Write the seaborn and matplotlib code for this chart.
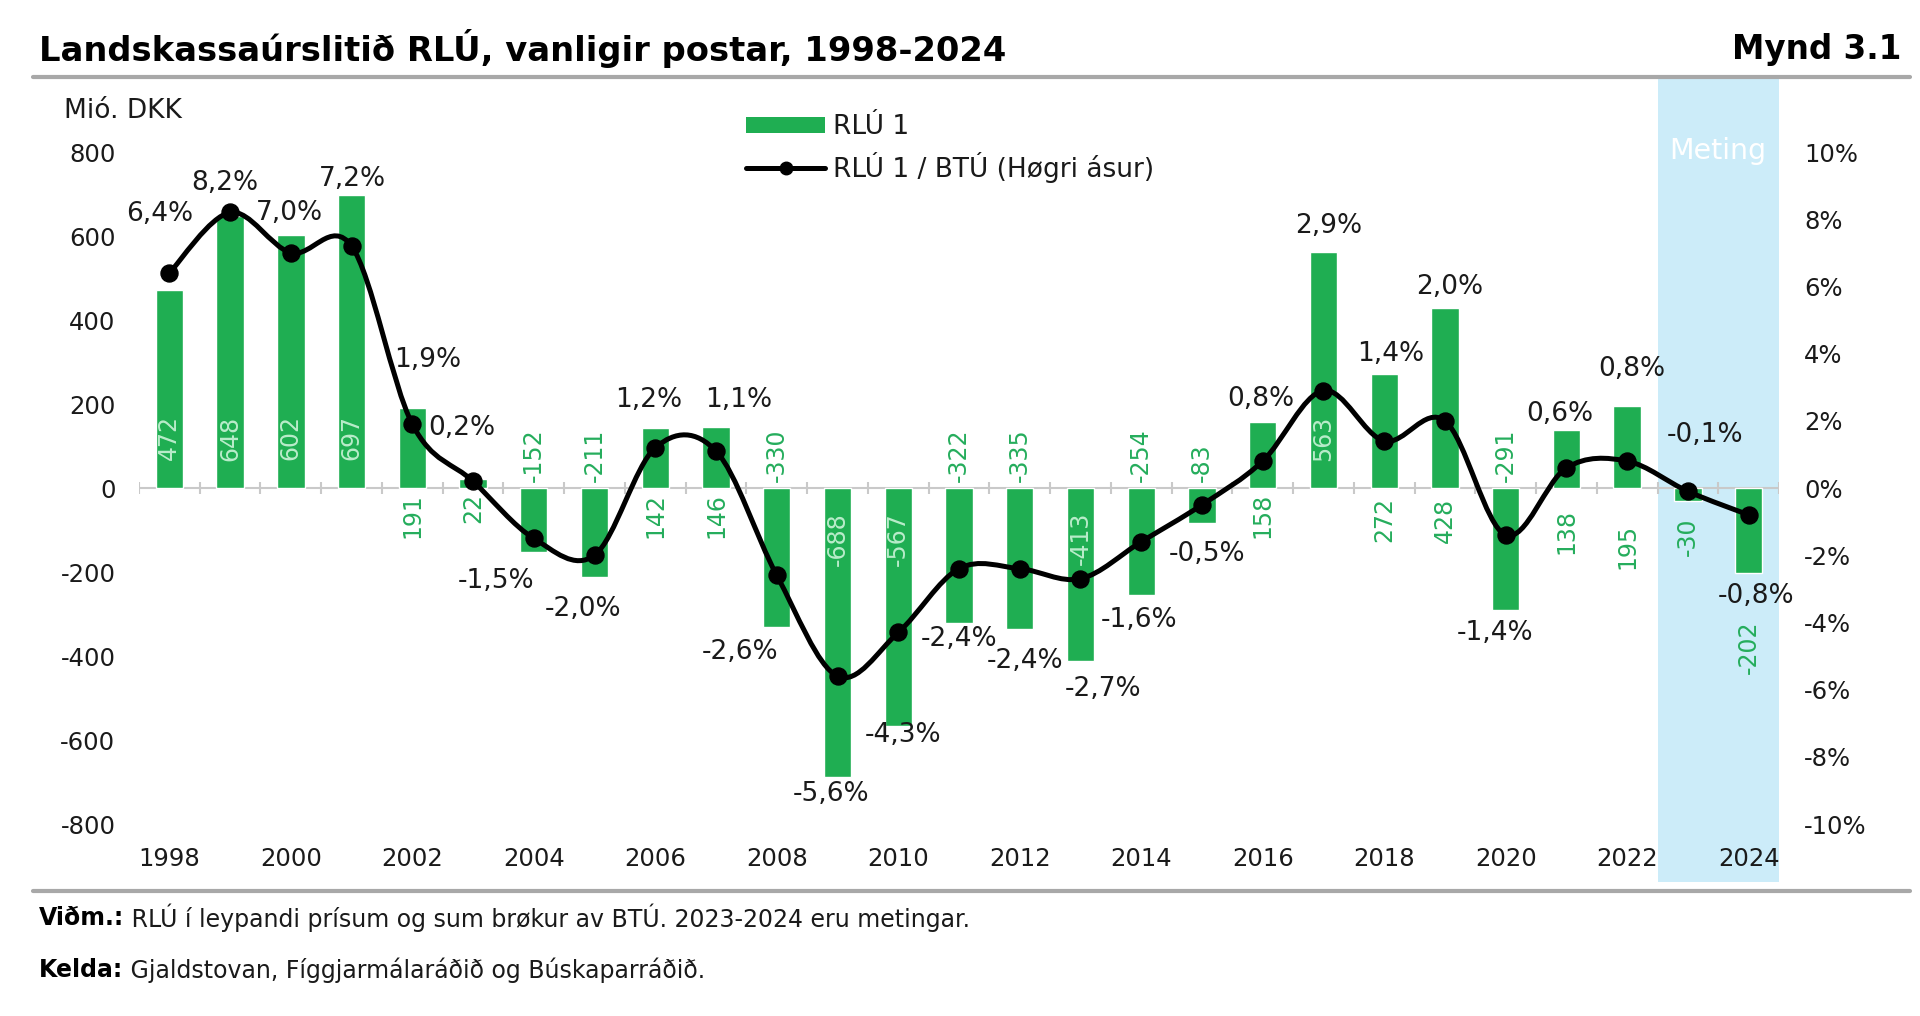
import numpy as np
import pandas as pd
import matplotlib
matplotlib.use("Agg")
import matplotlib.pyplot as plt
from matplotlib.path import Path
from matplotlib.patches import PathPatch, Rectangle, Patch
from matplotlib.lines import Line2D
import seaborn as sns

# ---------------- data ----------------
years = list(range(1998, 2025))
rlu1 = [472, 648, 602, 697, 191, 22, -152, -211, 142, 146, -330, -688, -567,
        -322, -335, -413, -254, -83, 158, 563, 272, 428, -291, 138, 195, -30, -202]
rlu_btu = [6.4, 8.2, 7.0, 7.2, 1.9, 0.2, -1.5, -2.0, 1.2, 1.1, -2.6, -5.6, -4.3,
           -2.4, -2.4, -2.7, -1.6, -0.5, 0.8, 2.9, 1.4, 2.0, -1.4, 0.6, 0.8, -0.1, -0.8]
left_ticks = [-800, -600, -400, -200, 0, 200, 400, 600, 800]
right_ticks = [-10, -8, -6, -4, -2, 0, 2, 4, 6, 8, 10]
xtick_years = list(range(1998, 2025, 2))
estimate_years = [2023, 2024]

title = "Landskassaúrslitið RLÚ, vanligir postar, 1998-2024"
fig_no = "Mynd 3.1"
ylabel = "Mió. DKK"
legend_bar = "RLÚ 1"
legend_line = "RLÚ 1 / BTÚ (Høgri ásur)"
band_text = "Meting"
note_bold = "Viðm.:"
note_text = " RLÚ í leypandi prísum og sum brøkur av BTÚ. 2023-2024 eru metingar."
src_bold = "Kelda:"
src_text = " Gjaldstovan, Fíggjarmálaráðið og Búskaparráðið."

# ---------------- style ----------------
GREEN = "#1fae52"
LBL_OUT = "#25ad5c"
LBL_IN = "#b9ecca"
BAND = "#ccecf9"
GRAY = "#a8a8a8"
TXT = "#1a1a1a"

# bar-label placement (Excel-like, per year)
bar_lbl_mode = {1998: "in", 1999: "in", 2000: "in", 2001: "in", 2002: "below", 2003: "below",
                2004: "above", 2005: "above", 2006: "below", 2007: "below", 2008: "above",
                2009: "nin", 2010: "nin", 2011: "above", 2012: "above", 2013: "nin",
                2014: "above", 2015: "above", 2016: "below", 2017: "in", 2018: "below",
                2019: "below", 2020: "above", 2021: "below", 2022: "below", 2023: "below",
                2024: "end"}
below_gap = {2018: 9, 2019: 10, 2021: 21, 2022: 36, 2023: 30}  # px, default 5
# percent label offsets in pixels (dx, dy; dy positive = down)
pct_off = {1998: (-10, -59), 1999: (-5, -29), 2000: (-1, -40), 2001: (1, -67), 2002: (15, -64),
           2003: (-11, -53), 2004: (-38, 43), 2005: (-11, 54), 2006: (-7, -48), 2007: (23, -51),
           2008: (-37, 77), 2009: (-6, 118), 2010: (5, 103), 2011: (0, 70), 2012: (5, 92),
           2013: (23, 110), 2014: (-2, 78), 2015: (5, 49), 2016: (-2, -62), 2017: (5, -165),
           2018: (7, -87), 2019: (5, -134), 2020: (-11, 98), 2021: (-7, -54), 2022: (5, -92),
           2023: (17, -56), 2024: (7, 81)}

sns.set_theme(style="white")
plt.rcParams["font.family"] = ["DejaVu Sans"]
plt.rcParams["axes.unicode_minus"] = False

W, H = 1920, 1016
fig = plt.figure(figsize=(W / 100, H / 100), dpi=100)
fig.patch.set_facecolor("white")

ax_l, ax_r, ax_t, ax_b = 139, 1779, 152, 824
ax = fig.add_axes([ax_l / W, 1 - ax_b / H, (ax_r - ax_l) / W, (ax_b - ax_t) / H])
ax.set_facecolor("none")
ax.set_zorder(1)

# estimate band (figure-level rectangle spanning above/below axes, behind the axes)
n = len(years)
px_per = (ax_r - ax_l) / n
i0 = years.index(estimate_years[0])
bx0 = ax_l + i0 * px_per
bx1 = ax_l + (years.index(estimate_years[-1]) + 1) * px_per
fig.patches.append(Rectangle((bx0 / W, 1 - 882 / H), (bx1 - bx0) / W, (882 - 77) / H,
                             transform=fig.transFigure, facecolor=BAND, edgecolor="none",
                             zorder=-2))
fig.text((bx0 + bx1) / 2 / W, 1 - 151 / H, band_text, color="white", fontsize=20.5,
         ha="center", va="center", zorder=-1)

df = pd.DataFrame({"year": years, "rlu1": rlu1, "pct": rlu_btu})
sns.barplot(data=df, x="year", y="rlu1", order=years, color=GREEN, saturation=1,
            width=0.45, ax=ax, zorder=2)
ax.set_xlim(-0.5, n - 0.5)
ax.set_ylim(-800, 800)
ax.set_yticks(left_ticks)
ax.set_yticklabels([str(t) for t in left_ticks])
ax.set_xticks([years.index(y) for y in xtick_years])
ax.set_xticklabels([str(y) for y in xtick_years])
ax.set_xlabel("")
ax.set_ylabel("")
for s in ax.spines.values():
    s.set_visible(False)
ax.tick_params(axis="y", length=0, pad=17, labelsize=17.5, labelcolor=TXT)
ax.tick_params(axis="x", length=0, pad=16.5, labelsize=17.5, labelcolor=TXT)

# zero (category) axis with boundary tick marks
ax.axhline(0, color="#c9c9c9", lw=1.5, zorder=1)
ax.vlines(np.arange(-0.5, n, 1.0), -14, 14, color="#c9c9c9", lw=1.5, zorder=1)

# bar value labels
k = 0.72  # px -> pt
BFS = 17
for i, (y, v) in enumerate(zip(years, rlu1)):
    mode = bar_lbl_mode[y]
    txt = str(v)
    if mode == "in":
        ax.annotate(txt, (i, 0), xytext=(0, 50 * k), textcoords="offset points", rotation=90,
                    ha="center", va="center", color=LBL_IN, fontsize=BFS, zorder=3)
    elif mode == "below":
        g = below_gap.get(y, 5)
        ax.annotate(txt, (i, 0), xytext=(0, -g * k), textcoords="offset points", rotation=90,
                    ha="center", va="top", color=LBL_OUT, fontsize=BFS, zorder=3)
    elif mode == "above":
        ax.annotate(txt, (i, 0), xytext=(0, 6 * k), textcoords="offset points", rotation=90,
                    ha="center", va="bottom", color=LBL_OUT, fontsize=BFS, zorder=3)
    elif mode == "nin":
        ax.annotate(txt, (i, 0), xytext=(0, -24 * k), textcoords="offset points", rotation=90,
                    ha="center", va="top", color=LBL_IN, fontsize=BFS, zorder=3)
    else:  # end (below bar end)
        ax.annotate(txt, (i, v), xytext=(0, -48 * k), textcoords="offset points", rotation=90,
                    ha="center", va="top", color=LBL_OUT, fontsize=BFS, zorder=3)

# right axis: ratio line
ax2 = ax.twinx()
ax2.set_ylim(-10, 10)
ax2.set_yticks(right_ticks)
ax2.set_yticklabels([f"{t}%" for t in right_ticks])
ax2.grid(False)
for s in ax2.spines.values():
    s.set_visible(False)
ax2.tick_params(axis="y", length=0, pad=18, labelsize=17.5, labelcolor=TXT)

xs = np.arange(n, dtype=float)
ys = np.array(rlu_btu, dtype=float)
verts = [(xs[0], ys[0])]
codes = [Path.MOVETO]
for i in range(n - 1):
    p0 = np.array([xs[max(i - 1, 0)], ys[max(i - 1, 0)]])
    p1 = np.array([xs[i], ys[i]])
    p2 = np.array([xs[i + 1], ys[i + 1]])
    p3 = np.array([xs[min(i + 2, n - 1)], ys[min(i + 2, n - 1)]])
    c1 = p1 + (p2 - p0) / 6
    c2 = p2 - (p3 - p1) / 6
    verts += [tuple(c1), tuple(c2), tuple(p2)]
    codes += [Path.CURVE4] * 3
ax2.add_patch(PathPatch(Path(verts, codes), facecolor="none", edgecolor="black", lw=3.6,
                        zorder=4, capstyle="round", joinstyle="round"))
sns.scatterplot(x=xs, y=ys, ax=ax2, color="black", s=150, edgecolor="black", zorder=5,
                legend=False)

for i, (y, v) in enumerate(zip(years, rlu_btu)):
    dx, dy = pct_off[y]
    ax2.annotate(f"{v:.1f}".replace(".", ",") + "%", (i, v), xytext=(dx * k, -dy * k),
                 textcoords="offset points", ha="center", va="center", fontsize=19,
                 color=TXT, zorder=6)

# legend
h_bar = Patch(facecolor=GREEN, edgecolor="none")
h_line = Line2D([], [], color="black", lw=3.6, marker="o", markersize=9)
fig.legend([h_bar, h_line], [legend_bar, legend_line], loc="upper left",
           bbox_to_anchor=(746 / W, 1 - 114 / H), frameon=False, fontsize=19,
           handlelength=3.0, handleheight=0.55, handletextpad=0.3, labelspacing=0.45,
           borderpad=0, borderaxespad=0, labelcolor=TXT)

# title & rules
fig.text(39 / W, 1 - 49 / H, title, fontsize=24.3, fontweight="bold", ha="left", va="center",
         color="black")
fig.text(1901 / W, 1 - 49 / H, fig_no, fontsize=23.5, fontweight="bold", ha="right",
         va="center", color="black")
fig.add_artist(Line2D([33 / W, 1910 / W], [1 - 77 / H, 1 - 77 / H], color=GRAY, lw=3,
                      transform=fig.transFigure))
fig.add_artist(Line2D([33 / W, 1910 / W], [1 - 891 / H, 1 - 891 / H], color=GRAY, lw=3,
                      transform=fig.transFigure))
fig.text(64 / W, 1 - 111 / H, ylabel, fontsize=19, ha="left", va="center", color=TXT)

# footnotes (bold lead + normal text)
renderer = fig.canvas.get_renderer()
for yy, b, t in [(918, note_bold, note_text), (970, src_bold, src_text)]:
    tb = fig.text(39 / W, 1 - yy / H, b, fontsize=17, fontweight="bold", ha="left",
                  va="center", color="black")
    bb = tb.get_window_extent(renderer)
    fig.text(bb.x1 / W, 1 - yy / H, t, fontsize=17, ha="left", va="center", color=TXT)

fig.savefig("out.png", dpi=100)
